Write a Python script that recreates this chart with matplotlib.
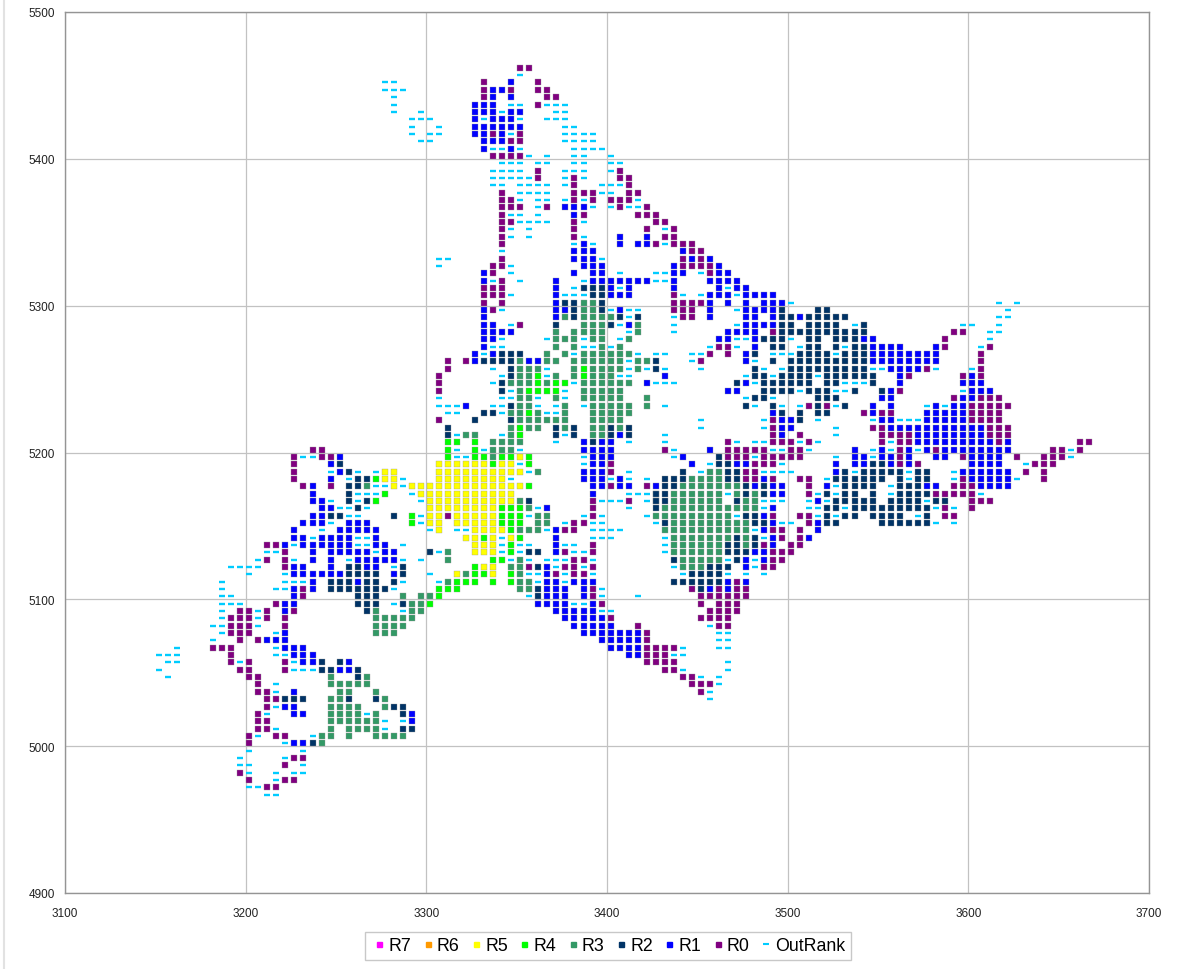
import matplotlib
matplotlib.use("Agg")
import matplotlib.pyplot as plt
from matplotlib.lines import Line2D

plt.rcParams['font.family'] = ['Liberation Sans', 'DejaVu Sans']

x_ticks = [3100, 3200, 3300, 3400, 3500, 3600, 3700]
y_ticks = [4900, 5000, 5100, 5200, 5300, 5400, 5500]

# Each entry: (y value, x values in that row)
R7 = []
R6 = []
R5 = [
 (5187,[3277,3282]),(5182,[3277,3282]),(5177,[3282,3292,3297,3302]),(5172,[3297,3302]),
 (5167,[3302]),(5162,[3302]),(5157,[3302]),(5152,[3302]),
 (5197,[3352]),
 (5192,[3307,3312,3317,3322,3327,3332,3342,3347]),
 (5187,[3307,3312,3317,3322,3327,3332,3337,3342,3347,3352]),
 (5182,[3307,3312,3317,3322,3327,3332,3337,3342]),
 (5177,[3307,3312,3317,3322,3327,3332,3337,3342,3347,3352]),
 (5172,[3307,3312,3317,3322,3327,3332,3337,3342,3347]),
 (5167,[3307,3312,3317,3322,3327,3332,3337,3342,3347]),
 (5162,[3307,3312,3317,3322,3327,3332,3337]),
 (5157,[3307,3317,3322,3327,3332,3337]),
 (5152,[3307,3317,3322,3327,3332,3337]),
 (5147,[3307,3327,3332,3337,3342]),
 (5142,[3322,3327,3337,3347]),
 (5137,[3327,3332,3337]),(5132,[3327,3332,3337]),
 (5122,[3332,3337]),(5117,[3317,3337]),
]
R4 = [
 (5257,[3387]),(5252,[3362,3387]),(5247,[3362,3372,3377]),(5242,[3357,3362,3367,3372]),
 (5227,[3357]),(5217,[3352]),(5212,[3352]),
 (5182,[3272]),(5172,[3277]),(5167,[3272]),(5157,[3292]),(5152,[3292]),(5097,[3302]),
 (5207,[3312,3317,3327]),(5202,[3312,3327]),(5197,[3312,3327,3332,3342,3347,3357]),
 (5192,[3337,3357]),(5177,[3357]),(5162,[3342,3347,3352]),(5157,[3342,3347,3352]),
 (5152,[3342,3347,3352]),(5147,[3347]),(5142,[3332,3352]),(5137,[3347]),(5132,[3347]),
 (5127,[3337,3342]),(5122,[3327]),(5117,[3327,3332,3347]),
 (5112,[3317,3322,3327,3337,3347]),(5107,[3307,3312,3317]),(5102,[3307]),
]
R3 = [
 (5302,[3387,3392]),(5297,[3387,3392]),(5292,[3377,3387,3392,3397,3402]),
 (5287,[3387,3392,3397,3417]),(5282,[3372,3382,3387,3392,3397,3417]),
 (5277,[3372,3377,3382,3392,3397,3412]),(5272,[3372,3382,3397,3407]),
 (5267,[3367,3377,3387,3392,3397,3402,3407,3412]),
 (5262,[3352,3367,3372,3382,3387,3392,3397,3402,3407,3417,3422]),
 (5257,[3352,3357,3362,3382,3392,3397,3402,3407,3417]),
 (5252,[3352,3357,3372,3382,3392,3397,3402]),
 (5247,[3347,3352,3357,3367,3387,3392,3397,3402,3407,3412]),
 (5242,[3352,3387,3392,3397,3402,3407]),
 (5237,[3352,3357,3372,3387,3392,3397,3402,3407,3422]),
 (5232,[3352,3357,3377,3392,3397,3402,3407,3412,3422]),
 (5227,[3347,3352,3362,3377,3392,3397,3402,3407,3412]),
 (5222,[3352,3357,3362,3367,3372,3377,3392,3397,3402,3407]),
 (5217,[3347,3357,3362,3377,3392,3397,3407]),
 (5212,[3322,3327,3347,3392,3397]),(5207,[3337,3342,3347,3352]),(5202,[3337,3342,3347]),
 (5197,[3337]),(5187,[3362]),(5167,[3352]),(5162,[3357]),(5157,[3362,3367]),(5152,[3362,3367]),
 (5147,[3352,3357,3362]),(5132,[3312]),(5127,[3312,3352]),(5122,[3347,3352]),
 (5117,[3322,3352]),(5112,[3312,3352,3357]),(5107,[3352,3357]),
 (5177,[3267]),(5102,[3287,3297,3302]),(5097,[3292,3297]),(5092,[3272,3292,3297]),
 (5087,[3272,3277,3282,3287,3292]),(5082,[3272,3277,3282,3287]),(5077,[3272,3277,3282]),
 (5187,[3457,3462]),(5182,[3447,3452,3457,3462]),
 (5177,[3442,3447,3452,3457,3462,3467,3472]),
 (5172,[3437,3442,3447,3452,3457,3462,3472,3482]),
 (5167,[3437,3442,3447,3452,3457,3462,3477,3482]),
 (5162,[3432,3437,3442,3447,3452,3457,3462,3467,3472,3477,3482]),
 (5157,[3427,3432,3437,3442,3447,3452,3457,3462,3467]),
 (5152,[3437,3442,3447,3452,3457,3462,3467,3472,3477]),
 (5147,[3432,3437,3442,3447,3452,3457,3462,3467,3472,3477]),
 (5142,[3437,3442,3447,3452,3457,3462,3467,3477]),
 (5137,[3437,3442,3447,3452,3457,3462,3477]),
 (5132,[3437,3442,3447,3452,3457,3462]),
 (5127,[3442,3447,3452,3457,3462]),(5122,[3442,3447,3452]),
 (5047,[3247,3267]),(5042,[3247,3252,3257,3262,3267]),(5037,[3252,3257,3272]),
 (5032,[3247,3252,3277]),(5027,[3247,3252,3257,3262,3277]),(5022,[3247,3252,3257,3262,3272]),
 (5017,[3247,3252,3257,3262,3267,3272]),(5012,[3247,3257,3262,3267,3272]),
 (5007,[3242,3247,3257,3272,3277,3282,3287]),(5002,[3242]),
]
R2 = [
 (5312,[3387,3392,3397]),(5307,[3392,3397]),(5302,[3377,3382,3397]),(5297,[3382,3397]),
 (5292,[3382,3407,3417]),(5287,[3372,3402]),(5267,[3342,3347,3352]),
 (5262,[3332,3337,3342,3347,3427]),(5257,[3347,3427]),(5252,[3347]),(5247,[3342]),(5242,[3342]),
 (5232,[3347]),(5227,[3332,3337]),(5222,[3327,3347]),(5217,[3312,3372,3382,3402,3412]),
 (5212,[3312,3372,3382,3402,3412]),(5207,[3392]),(5172,[3427]),(5167,[3357,3427]),(5162,[3427]),
 (5132,[3357,3362]),(5122,[3362]),(5107,[3362]),(5102,[3362]),
 (5192,[3252]),(5187,[3257]),(5182,[3262,3267]),(5177,[3257,3262]),(5172,[3257]),
 (5167,[3257,3267]),(5162,[3262]),(5157,[3247,3252,3282]),(5132,[3302]),
 (5122,[3257,3262,3287]),(5117,[3257,3262,3267,3272,3287]),
 (5112,[3247,3252,3257,3267,3272,3282]),(5107,[3247,3252,3257,3262,3267,3272,3277]),
 (5102,[3262,3267,3272]),(5097,[3262,3267,3272,3287]),(5092,[3267]),
 (5297,[3497]),(5292,[3497,3502]),(5287,[3497,3502]),(5282,[3497,3502,3507]),
 (5277,[3487,3492,3497]),(5272,[3492,3497]),(5267,[3482,3507]),(5262,[3492,3502,3507]),
 (5257,[3482,3502,3507]),(5252,[3482,3487,3497,3502,3507]),
 (5247,[3472,3487,3492,3497,3502,3507]),(5242,[3487,3492,3497,3502]),(5237,[3482,3487]),
 (5232,[3477,3492]),(5227,[3497,3507]),(5222,[3507]),
 (5197,[3462]),(5192,[3462,3467]),(5187,[3442,3467,3472]),(5182,[3432,3437,3442,3467,3472]),
 (5177,[3432,3437,3477,3487]),(5172,[3427,3432,3477,3487]),(5167,[3427,3432,3472]),
 (5157,[3477,3482]),(5152,[3432,3482,3487]),(5142,[3472,3482]),
 (5137,[3467,3472,3482]),(5132,[3467,3472,3477]),(5127,[3437,3472]),(5122,[3457,3462,3467]),
 (5117,[3447,3452,3457,3462]),(5112,[3437,3442,3447,3452,3457,3462]),(5107,[3452]),
 (5297,[3517,3522]),(5292,[3512,3517,3522,3527,3532]),(5287,[3512,3517,3522,3527,3542]),
 (5282,[3512,3517,3522,3527,3532,3537,3542]),(5277,[3512,3517,3527,3532,3537]),
 (5272,[3512,3517,3527,3537,3542]),(5267,[3512,3517,3522,3532,3537,3542]),
 (5262,[3512,3517,3522,3527,3532,3537,3542]),(5257,[3512,3517,3522,3527,3532,3537,3542]),
 (5252,[3512,3522,3527,3532,3537,3542,3547]),(5247,[3512,3522,3527,3547]),
 (5242,[3512,3517,3522,3537,3552]),(5237,[3517,3522,3527]),(5232,[3517,3532]),(5227,[3517,3522]),
 (5192,[3547,3552]),(5187,[3532,3542,3547,3552,3557,3562,3572,3577]),
 (5182,[3527,3532,3537,3542,3547,3552,3562,3572,3577]),
 (5177,[3532,3537,3542,3547,3562,3567,3572]),
 (5172,[3522,3532,3537,3547,3562,3567,3572,3577]),
 (5167,[3527,3532,3537,3542,3547,3557,3562,3567,3572,3582,3587]),
 (5162,[3522,3527,3537,3542,3547,3552,3557,3562,3567,3572,3577]),
 (5157,[3522,3532,3537,3547,3552,3557,3562,3577]),
 (5152,[3522,3527,3552,3557,3562,3567,3572,3577]),
 (5057,[3242,3252]),(5052,[3242,3247,3262]),(5047,[3262]),(5032,[3222,3227,3232,3257,3272]),
 (5027,[3282,3287]),(5022,[3287]),(5012,[3287,3292]),(5002,[3237]),
]
R1 = [
 (5452,[3347]),(5447,[3337,3342]),(5442,[3337,3347]),(5437,[3327,3332,3337]),
 (5432,[3327,3332,3337,3347,3352]),(5427,[3327,3337,3342,3347]),
 (5422,[3327,3332,3337,3342,3347,3352]),(5417,[3327,3332,3342]),(5412,[3332,3337,3342]),
 (5407,[3332,3347]),(5367,[3377,3382,3387]),(5362,[3382]),(5347,[3407,3422]),
 (5342,[3387,3407,3417,3422]),(5337,[3382,3387,3392]),(5332,[3382,3387,3392]),
 (5327,[3387,3392,3397]),(5322,[3332,3382,3392,3397]),
 (5317,[3332,3372,3392,3397,3402,3407,3412,3417,3422]),
 (5312,[3372,3402,3412]),(5307,[3372,3402,3407,3412]),(5302,[3372]),
 (5297,[3332,3372,3377,3407]),(5292,[3332,3372]),(5287,[3332,3337,3412]),
 (5282,[3332,3337,3342,3347]),(5277,[3332,3337]),(5272,[3332]),(5267,[3327,3337]),
 (5262,[3327,3357,3362]),(5252,[3432]),(5247,[3422]),(5232,[3322]),
 (5212,[3407]),(5207,[3387,3397,3402]),(5202,[3387,3392,3397,3402]),(5197,[3392,3397,3402]),
 (5192,[3392,3397]),(5187,[3387,3392,3397]),(5182,[3387,3392,3397,3407]),
 (5177,[3392,3397,3407,3412]),(5172,[3392]),(5162,[3367]),(5147,[3372]),(5142,[3372]),
 (5137,[3372]),(5132,[3372]),(5122,[3367]),(5117,[3367]),(5112,[3367,3372,3382,3387,3392]),
 (5107,[3367,3372,3377,3387]),(5102,[3367,3372,3377,3387]),(5097,[3362,3367,3372,3377,3392]),
 (5092,[3372,3377,3382,3387,3392]),(5087,[3377,3382,3387,3392,3397]),
 (5082,[3382,3387,3392,3397,3402]),(5077,[3387,3392,3397,3402,3407,3412,3417]),
 (5072,[3397,3402,3407,3412,3417]),(5067,[3402,3407,3412,3417]),(5062,[3412,3417]),
 (5197,[3252]),(5192,[3247]),(5187,[3252]),(5182,[3247]),(5177,[3237]),(5172,[3237]),
 (5167,[3237,3242]),(5162,[3242,3247]),(5157,[3237,3242]),
 (5152,[3232,3237,3242,3257,3262,3267]),(5147,[3227,3252,3257,3262,3267,3272]),
 (5142,[3227,3232,3242,3247,3252,3257,3272]),
 (5137,[3222,3232,3237,3242,3247,3252,3257,3272,3277]),
 (5132,[3237,3247,3252,3257,3262,3267,3277,3282]),
 (5127,[3237,3247,3262,3267,3272,3277,3282]),(5122,[3227,3232,3247,3267,3272]),
 (5117,[3227,3232,3237,3242,3247,3252,3282]),(5112,[3237,3262]),(5107,[3227,3237]),
 (5102,[3227]),(5097,[3222,3227]),(5092,[3222]),(5077,[3222]),(5072,[3212,3217,3222]),
 (5067,[3222,3227,3232]),(5062,[3227,3232,3237]),(5057,[3232,3237,3257]),(5052,[3252,3257]),
 (5037,[3227]),(5027,[3222,3227]),(5022,[3227,3232,3292]),(5017,[3292]),(5002,[3227,3232]),
 (5337,[3442]),(5332,[3447,3457]),(5327,[3437,3462]),(5322,[3437,3442,3462,3467]),
 (5317,[3437,3457,3462,3467,3472]),(5312,[3437,3462,3472,3477]),
 (5307,[3457,3462,3467,3477,3482,3487,3492]),(5302,[3457,3467,3477,3487,3492,3497]),
 (5297,[3457,3477,3482,3487,3492]),(5292,[3457,3477,3482,3492,3507]),
 (5287,[3477,3482,3487,3492]),(5282,[3467,3472,3477,3482]),(5277,[3462,3467,3482]),
 (5272,[3482]),(5267,[3477]),(5262,[3477]),(5247,[3477]),(5242,[3467,3472]),
 (5227,[3492]),(5222,[3497,3502]),(5217,[3497,3502]),
 (5212,[3497]),(5202,[3457]),(5197,[3442]),(5192,[3447,3472,3477]),(5182,[3487]),
 (5177,[3427,3482,3492,3497]),(5172,[3492,3497]),(5162,[3492]),(5157,[3487]),(5152,[3492]),
 (5147,[3487,3517]),(5142,[3492,3512]),(5137,[3492]),(5132,[3482,3487]),(5127,[3477,3487]),
 (5122,[3477]),(5112,[3467,3477]),(5107,[3457,3467]),
 (5277,[3542,3547]),(5272,[3547,3552,3557,3562,3582]),
 (5267,[3547,3552,3557,3562,3567,3572,3577,3582]),(5262,[3547,3552,3557,3562,3567,3572,3577,3582]),
 (5257,[3557,3562,3567,3572]),(5252,[3562,3602]),(5247,[3562,3597,3602,3607]),
 (5242,[3557,3602,3607,3612]),(5237,[3552,3557,3597,3602]),(5232,[3547,3557,3582,3592,3597]),
 (5227,[3547,3577,3582,3587,3592,3597]),(5222,[3552,3557,3577,3582,3587,3592,3597]),
 (5217,[3557,3562,3567,3572,3577,3582,3587,3592,3597,3602,3607]),
 (5212,[3572,3577,3582,3587,3592,3597,3602,3607]),
 (5207,[3572,3577,3582,3587,3592,3597,3602,3607,3612,3622]),
 (5202,[3537,3552,3567,3577,3587,3592,3597,3602,3607,3612,3617,3622]),
 (5197,[3537,3542,3552,3557,3567,3582,3587,3602,3607,3612,3617]),
 (5192,[3527,3537,3542,3557,3567,3602,3607,3612,3617]),
 (5187,[3527,3597,3602,3607,3612,3617,3622]),(5182,[3602,3607,3612,3617,3622]),
 (5177,[3522,3577,3582,3607,3612,3617,3622]),(5167,[3517]),(5152,[3517]),
]
R0 = [
 (5462,[3352,3357]),(5452,[3332,3362]),(5447,[3332,3347,3362,3367]),(5442,[3332,3367,3372]),
 (5437,[3362]),(5417,[3337,3352]),(5412,[3347,3352]),(5402,[3337,3342,3347,3352]),
 (5392,[3362,3407]),(5387,[3362,3382,3407,3412]),(5382,[3382,3412]),
 (5377,[3342,3382,3387,3392,3412,3417]),(5372,[3342,3347,3382,3392,3402,3407,3412]),
 (5367,[3342,3347,3352,3367,3407,3422]),(5362,[3342,3387,3417,3422,3427]),
 (5357,[3342,3347,3382,3427,3432]),(5352,[3342,3382,3422,3437]),(5347,[3342,3382,3432,3437]),
 (5342,[3342,3427,3437,3442,3447]),(5337,[3447,3452]),(5332,[3342,3442,3452]),
 (5327,[3337,3342,3442,3447,3452,3457]),(5322,[3337,3457]),(5317,[3342]),
 (5312,[3332,3337,3342]),(5307,[3332,3337,3342,3437]),(5302,[3332,3342,3437,3442,3447,3452]),
 (5297,[3337,3437,3442,3447]),(5292,[3442,3447]),(5287,[3352]),(5282,[3492]),
 (5272,[3462,3467]),(5267,[3457,3467]),(5262,[3312,3322,3452]),(5257,[3312]),
 (5252,[3307]),(5247,[3307]),(5242,[3307]),(5222,[3307,3492]),(5217,[3492]),
 (5192,[3402]),(5187,[3402]),(5177,[3402,3422]),(5167,[3392,3412]),(5162,[3392]),
 (5157,[3312,3392]),(5152,[3382,3387]),(5147,[3377,3382]),(5137,[3392]),(5132,[3377,3392]),
 (5127,[3382,3387]),(5122,[3357,3377,3382,3392]),(5117,[3372,3382,3387]),(5107,[3392]),
 (5102,[3392]),(5097,[3397]),(5087,[3402]),(5082,[3417]),(5077,[3422]),
 (5072,[3422]),(5067,[3422,3427,3432,3437]),(5062,[3422,3427,3432]),
 (5057,[3422,3427,3432,3437]),(5052,[3432,3437]),(5047,[3442,3447]),(5042,[3447,3452,3457]),
 (5037,[3452]),
 (5212,[3492,3507]),(5207,[3467,3492,3497,3502]),(5202,[3432,3467,3472,3477,3482,3487,3502,3507]),
 (5197,[3467,3472,3477,3487,3492,3497,3502,3507]),(5192,[3482,3487,3492]),(5187,[3477,3482]),
 (5182,[3477,3482,3492,3507]),(5157,[3492,3507]),(5147,[3492,3497,3507]),(5142,[3497,3507]),
 (5137,[3487,3502,3507]),(5132,[3492,3497,3502]),(5127,[3492,3497]),(5122,[3487,3492]),
 (5112,[3472]),(5107,[3447,3462,3472,3477]),(5102,[3452,3457,3462,3467,3472,3477]),
 (5097,[3452,3462,3467,3472]),(5092,[3457,3462,3467,3472]),(5087,[3452,3457,3462,3467]),
 (5082,[3462,3467]),
 (5282,[3592,3597]),(5277,[3587]),(5272,[3587,3612]),(5267,[3607]),(5262,[3607]),
 (5257,[3577,3607]),(5252,[3567,3597,3607]),(5242,[3562]),(5237,[3592,3607,3612,3617]),
 (5232,[3512,3522,3602,3607,3612,3617,3622]),(5227,[3542,3552,3557,3602,3607,3612,3617]),
 (5222,[3602,3607,3612,3617]),(5217,[3547,3552,3612,3617,3622]),
 (5212,[3552,3557,3562,3567,3612,3617,3622]),(5207,[3512,3552,3562,3567,3617,3662,3667]),
 (5202,[3562,3582,3647,3652,3662]),(5197,[3562,3597,3627,3642,3647,3652]),
 (5192,[3562,3572,3637,3642,3647]),(5187,[3632,3642]),(5182,[3512,3597,3642]),
 (5177,[3512,3592,3597,3602]),(5172,[3512,3582,3587,3592,3597,3602]),(5167,[3602,3607,3612]),
 (5162,[3587,3602]),(5157,[3512,3587,3592]),(5152,[3512]),
 (5202,[3237,3242]),(5197,[3227,3242,3247]),(5192,[3227]),(5187,[3227]),(5182,[3227]),
 (5177,[3232,3247]),(5137,[3212,3217]),(5132,[3222]),(5127,[3212,3222]),(5122,[3222]),
 (5107,[3232]),(5102,[3232]),(5097,[3217]),(5092,[3197,3202,3212,3227]),
 (5087,[3192,3197,3202,3212,3222]),(5082,[3192,3197,3202,3222]),(5077,[3192,3197,3202]),
 (5072,[3197,3207]),(5067,[3182,3187,3192]),(5062,[3192]),(5057,[3192,3202,3222]),
 (5052,[3197,3202,3222]),(5047,[3202,3207]),(5042,[3207]),(5037,[3207,3212]),(5032,[3212,3217]),
 (5027,[3212]),(5022,[3207]),(5017,[3207,3212]),(5012,[3207,3212]),(5007,[3202,3217,3222]),
 (5002,[3202]),(4992,[3227,3232]),(4987,[3222]),(4982,[3197]),(4977,[3202,3222,3227]),
 (4972,[3212,3217]),
]
OutRank = [
 (5457,[3352]),(5452,[3277,3282]),(5447,[3277,3282,3287]),(5442,[3282]),
 (5437,[3282,3347,3352,3367,3372,3377]),(5432,[3282,3297,3342,3372,3377]),
 (5427,[3292,3297,3302,3332,3352,3367,3372,3377]),(5422,[3292,3307,3377,3382]),
 (5417,[3292,3302,3307,3347,3377,3382,3387,3392]),(5412,[3297,3302,3377,3382,3387,3392]),
 (5407,[3337,3342,3352,3382,3387,3392,3397]),(5402,[3357,3367,3382,3387,3402]),
 (5397,[3342,3347,3352,3362,3367,3382,3387,3402,3407]),
 (5392,[3337,3342,3347,3352,3377,3382,3387,3402]),
 (5387,[3337,3342,3347,3352,3357,3377,3387]),
 (5382,[3337,3342,3352,3357,3362,3367,3377,3397,3402,3407]),
 (5377,[3352,3357,3362,3367,3397,3402]),(5372,[3352,3362,3367,3377,3387,3417]),
 (5367,[3362,3392,3402,3412,3417]),(5362,[3347,3352,3362]),
 (5357,[3352,3357,3362,3367,3387]),(5352,[3347,3357,3432]),(5347,[3347,3357,3387]),
 (5342,[3382,3392,3432]),(5337,[3342]),(5332,[3307,3312,3397]),(5327,[3307,3347]),
 (5322,[3347,3407,3427,3432,3452]),(5317,[3337,3352,3387,3427,3432]),
 (5312,[3467,3382,3407]),(5307,[3442,3452,3472,3347,3377,3382,3387]),(5302,[3502]),
 (5297,[3472,3342,3402,3412,3417]),(5292,[3437,3412]),(5287,[3437,3472,3347,3407]),
 (5282,[3437,3412]),(5277,[3472,3477,3502,3342,3367,3387,3407]),
 (5272,[3457,3472,3507,3337,3342,3387,3392,3402]),
 (5267,[3447,3452,3492,3497,3502,3332,3382,3417,3427,3432]),(5262,[3447,3482,3412]),
 (5257,[3452,3487,3497,3337,3367,3412,3422,3432]),(5252,[3477,3492,3342,3367,3407,3412]),
 (5247,[3482,3337,3382,3427,3432,3437]),(5242,[3507,3347,3377]),
 (5237,[3477,3492,3307,3342,3347,3362,3377]),
 (5232,[3482,3497,3507,3307,3312,3317,3337,3342,3362,3372,3387,3432]),
 (5227,[3312,3317,3342,3367,3372]),(5222,[3452,3487]),(5217,[3452,3487]),
 (5212,[3317,3342,3377,3432]),(5207,[3372,3412,3432,3472,3482,3487,3507]),
 (5202,[3317,3332,3352,3437,3492,3497]),(5197,[3317,3322,3387,3437,3482]),
 (5192,[3352,3387,3457,3497]),(5187,[3357,3412,3452,3487,3492,3497,3502]),
 (5182,[3347,3402,3412,3422]),(5172,[3412,3417,3422,3467]),
 (5167,[3397,3402,3407,3422,3487,3492,3497]),(5162,[3362,3412,3487]),
 (5157,[3357,3387,3397,3422,3472]),(5152,[3377,3392,3397,3427,3497,3502]),
 (5147,[3317,3322,3367,3392,3397,3402,3407,3482]),(5142,[3342,3392,3397,3402,3432,3487]),
 (5137,[3342,3352,3357,3377,3382,3432]),(5132,[3307,3342,3352,3382,3387,3432]),
 (5127,[3347,3357,3367,3372,3377,3392,3467,3482]),(5122,[3372,3387,3437,3482]),
 (5117,[3357,3362,3377,3392,3442,3467,3477,3487]),(5112,[3307,3362,3377]),(5107,[3397]),
 (5102,[3357,3397,3417]),(5097,[3382,3387]),(5092,[3397,3402]),(5082,[3457]),
 (5077,[3462,3467]),(5072,[3462,3467]),(5067,[3442,3462,3467]),(5062,[3437,3442]),
 (5057,[3467]),(5052,[3442,3467]),(5047,[3452,3462]),(5042,[3462]),(5037,[3457]),(5032,[3457]),
 (5197,[3232,3237]),(5187,[3247,3262,3272]),(5182,[3257,3287]),(5177,[3272,3277,3287]),
 (5172,[3262,3267,3272,3292]),(5167,[3247,3262,3297]),(5162,[3252,3257,3267]),
 (5157,[3257,3262,3297]),(5152,[3247,3297]),(5147,[3242,3302]),(5142,[3237,3262,3267]),
 (5137,[3227,3262,3267,3287]),(5132,[3212,3217,3272]),(5127,[3207,3227,3257,3287,3297]),
 (5122,[3192,3197,3202,3207,3282]),(5117,[3202,3222,3302]),(5112,[3187,3222,3227,3232,3287]),
 (5107,[3187,3217,3222,3282]),(5102,[3187,3192]),(5097,[3187,3192,3197,3282]),
 (5092,[3187,3207,3287]),(5087,[3187,3207]),(5082,[3182,3187,3207]),(5077,[3187,3217]),
 (5072,[3182]),(5067,[3162,3217]),(5062,[3152,3157,3162,3217,3222]),
 (5057,[3157,3162,3197,3227]),(5052,[3152,3227,3232,3237]),(5047,[3157]),(5042,[3217]),
 (5037,[3217]),(5027,[3217]),(5022,[3212,3267]),(5017,[3277,3287]),(5012,[3217,3277]),
 (5007,[3207,3237]),(5002,[3222]),(4997,[3202,3232]),(4992,[3197,3222]),
 (4987,[3197,3202,3232]),(4982,[3202,3217,3227,3232]),(4977,[3217]),(4972,[3202,3207]),
 (4967,[3212,3217]),
 (5302,[3617,3627]),(5297,[3622]),(5292,[3617,3622]),(5287,[3537,3597,3602,3617]),
 (5282,[3612,3617]),(5277,[3612]),(5272,[3532,3607]),(5267,[3527]),
 (5257,[3547,3552,3582,3602]),(5252,[3517]),(5247,[3532,3537,3542]),(5242,[3527,3532,3597]),
 (5232,[3527,3577,3587]),(5222,[3517,3547,3562,3567,3572]),(5217,[3527]),(5212,[3527]),
 (5207,[3517,3557]),(5202,[3512,3547,3557,3572,3657]),(5197,[3527,3547,3657]),(5192,[3632]),
 (5187,[3537,3567,3592]),(5182,[3522,3567,3592,3627]),(5177,[3527,3557]),
 (5172,[3517,3527,3557,3607]),(5167,[3512,3522,3577]),(5162,[3512,3517,3532,3582,3592]),
 (5157,[3517,3527,3572]),(5152,[3582,3592]),
]

series = [
    ("R7", R7, "#FF00FF"), ("R6", R6, "#FF9900"), ("R5", R5, "#FFFF00"),
    ("R4", R4, "#00FF00"), ("R3", R3, "#339966"), ("R2", R2, "#003366"),
    ("R1", R1, "#0000FF"), ("R0", R0, "#800080"),
]

W, H = 1192, 970
fig = plt.figure(figsize=(W / 100, H / 100), dpi=100)
ax = fig.add_axes([65 / W, 1 - 894 / H, (1149 - 65) / W, (894 - 13) / H])

for name, rows, colour in series:
    xs = [x for y, r in rows for x in r]
    ys = [y for y, r in rows for x in r]
    ax.plot(xs, ys, ls="none", marker="s", ms=4.9, mew=0.25, mfc=colour,
            mec="#9a9a9a", label=name, zorder=3)
xs = [x for y, r in OutRank for x in r]
ys = [y for y, r in OutRank for x in r]
ax.plot(xs, ys, ls="none", marker="_", ms=4.6, mew=1.7, color="#00CCFF",
        label="OutRank", zorder=3)

ax.set_xlim(3100, 3700)
ax.set_ylim(4900, 5500)
ax.set_xticks(x_ticks)
ax.set_yticks(y_ticks)
ax.grid(True, color="#c2c2c2", lw=0.9)
ax.set_axisbelow(True)
ax.tick_params(axis="y", length=0, labelsize=8.5, colors="#222222", pad=7)
ax.tick_params(axis="x", length=0, labelsize=8.5, colors="#222222", pad=10)
for s in ax.spines.values():
    s.set_color("#949494")
    s.set_linewidth(1.0)

handles, labels = ax.get_legend_handles_labels()
handles = []
for name, rows, colour in series:
    handles.append(Line2D([], [], ls="none", marker="s", ms=3.6, mfc=colour, mec=colour))
handles.append(Line2D([], [], ls="none", marker="_", ms=4.4, mew=1.5, color="#00CCFF"))
leg = fig.legend(handles, labels, loc="center", bbox_to_anchor=(608 / W, 1 - 947 / H), ncol=9,
                 frameon=True, fancybox=False, edgecolor="#c8c8c8", framealpha=1,
                 fontsize=12.8, columnspacing=0.42, handletextpad=0.02, handlelength=1.0,
                 borderpad=0.3, borderaxespad=0)
leg.get_frame().set_linewidth(1.0)

fig.add_artist(Line2D([3.5 / W, 3.5 / W], [0, 1], color="#e2e2e2", lw=1.5))
fig.savefig("out.png", dpi=100)
